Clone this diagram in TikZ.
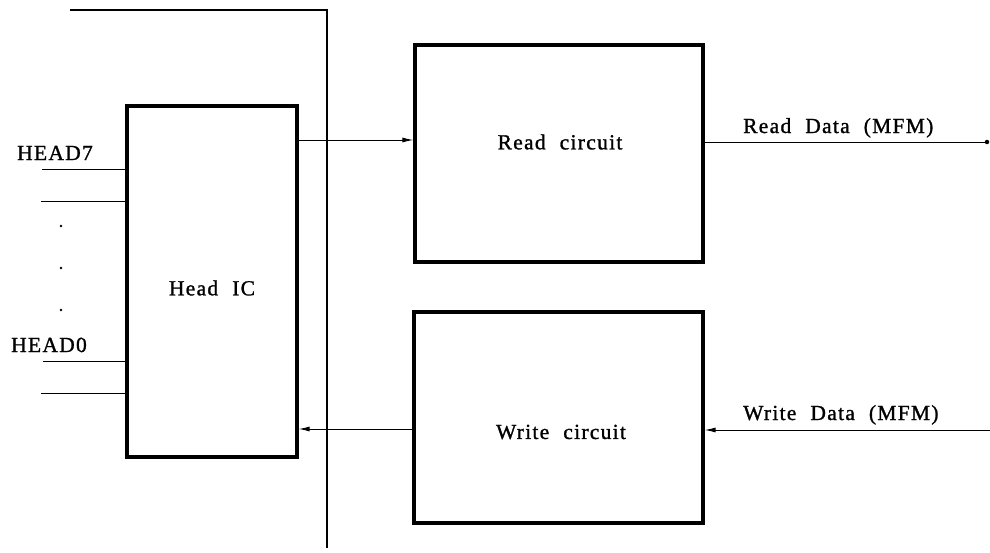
\documentclass[tikz,border=0pt]{standalone}
\usepackage{fontspec}
\setmainfont[LetterSpace=6,WordSpace=2.1,FakeBold=1.2]{Liberation Serif}
\usetikzlibrary{arrows.meta}
\begin{document}
\begin{tikzpicture}[x=1pt,y=-1pt,
  blk/.style={draw,line width=3.2pt,inner sep=0pt},
  wire/.style={draw,line width=1pt},
  arr/.style={wire,-{Latex[length=11pt,width=5pt]}},
  txt/.style={font=\fontsize{21.5}{24}\selectfont,inner sep=0pt},
  dotmark/.style={circle,fill,inner sep=0pt,minimum size=3pt}]
\useasboundingbox (0,0) rectangle (990,552);
% boxes
\node[blk,minimum width=170pt,minimum height=351pt] (hic) at (212,281.5) {};
\node[blk,minimum width=288pt,minimum height=217pt] (rc) at (559,153.5) {};
\node[blk,minimum width=289pt,minimum height=211pt] (wc) at (558.5,417.5) {};
% texts
\node[txt] (hictxt) at (212,288) {Head IC};
\node[txt] (rctxt) at (560,142) {Read circuit};
\node[txt] (wctxt) at (561,432) {Write circuit};
\node[txt,anchor=base west] (rdtxt) at (743,133) {Read Data (MFM)};
\node[txt,anchor=base west] (wdtxt) at (743,420) {Write Data (MFM)};
\node[txt,anchor=base west] (h7) at (17,160) {HEAD7};
\node[txt,anchor=base west] (h0) at (11,352) {HEAD0};
% divider
\coordinate (t0) at (70,10);
\coordinate (t1) at (327,10);
\coordinate (t2) at (327,548);
\draw[line width=2pt] (t0) -- (t1) -- (t2);
% head lines
\coordinate (l1) at (42,169);
\coordinate (l2) at (41,201);
\coordinate (l3) at (43,361);
\coordinate (l4) at (41,393);
\draw[wire] (l1) -- (l1 -| hic.west);
\draw[wire] (l2) -- (l2 -| hic.west);
\draw[wire] (l3) -- (l3 -| hic.west);
\draw[wire] (l4) -- (l4 -| hic.west);
\node[dotmark,minimum size=2.8pt] (d1) at (61,226) {};
\node[dotmark,minimum size=2.8pt] (d2) at (61,268) {};
\node[dotmark,minimum size=2.8pt] (d3) at (61,310) {};
% connectors
\coordinate (ra) at (0,140);
\draw[arr] (hic.east |- ra) -- (rc.west |- ra);
\coordinate (wa) at (0,429);
\draw[arr] (wc.west |- wa) -- (hic.east |- wa);
\coordinate (rdend) at (987,142);
\draw[wire] (rc.east |- rdend) -- (rdend);
\node[dotmark,minimum size=4.5pt] (rddot) at (rdend) {};
\coordinate (wdend) at (990,430);
\draw[arr] (wdend) -- (wc.east |- wdend);
\end{tikzpicture}
\end{document}
